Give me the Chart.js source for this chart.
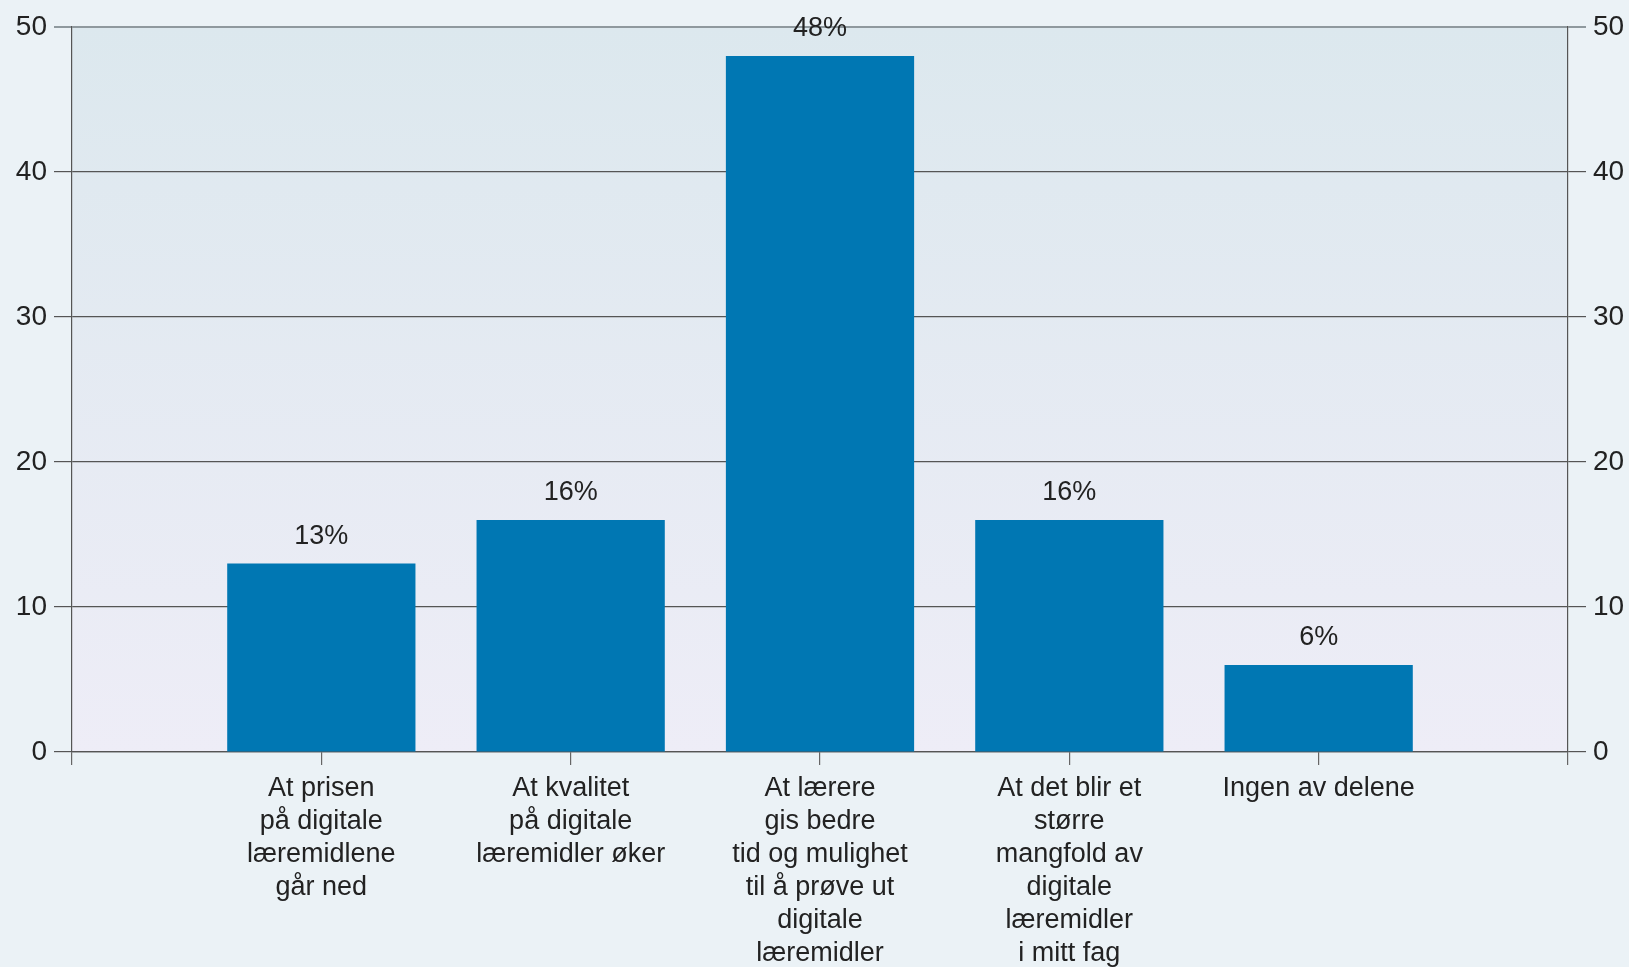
<!DOCTYPE html>
<html>
<head>
<meta charset="utf-8">
<script src="https://cdn.jsdelivr.net/npm/chart.js@4.4.0/dist/chart.umd.min.js"></script>
<style>
  html, body { margin: 0; padding: 0; background: #ebf2f6; }
  #wrap { width: 1629px; height: 967px; position: relative; }
</style>
</head>
<body>
<div id="wrap"><canvas id="c" width="1629" height="967"></canvas></div>
<script>
const categories = [
  '',
  ['At prisen', 'på digitale', 'læremidlene', 'går ned'],
  ['At kvalitet', 'på digitale', 'læremidler øker'],
  ['At lærere', 'gis bedre', 'tid og mulighet', 'til å prøve ut', 'digitale', 'læremidler'],
  ['At det blir et', 'større', 'mangfold av', 'digitale', 'læremidler', 'i mitt fag'],
  ['Ingen av delene'],
  ''
];
const values = [null, 13, 16, 48, 16, 6, null];
const valueLabels = ['', '13%', '16%', '48%', '16%', '6%', ''];
const yTicks = [0, 10, 20, 30, 40, 50];

const FONT = "'Liberation Sans', Arial, sans-serif";

const bgPlugin = {
  id: 'bgPlugin',
  beforeDraw(chart) {
    const {ctx, chartArea: a} = chart;
    ctx.save();
    ctx.fillStyle = '#ebf2f6';
    ctx.fillRect(0, 0, chart.width, chart.height);
    const g = ctx.createLinearGradient(0, a.top, 0, a.bottom);
    g.addColorStop(0, '#dce8ee');
    g.addColorStop(1, '#eeedf7');
    ctx.fillStyle = g;
    ctx.fillRect(a.left, a.top, a.right - a.left, a.bottom - a.top);
    ctx.restore();
  }
};

const labelPlugin = {
  id: 'labelPlugin',
  afterDatasetsDraw(chart) {
    const {ctx} = chart;
    const meta = chart.getDatasetMeta(0);
    ctx.save();
    ctx.font = "27px " + FONT;
    ctx.fillStyle = '#222';
    ctx.textAlign = 'center';
    ctx.textBaseline = 'middle';
    meta.data.forEach((bar, i) => {
      if (values[i] == null) return;
      ctx.fillText(valueLabels[i], bar.x, bar.y - 27);
    });
    ctx.restore();
  }
};

new Chart(document.getElementById('c'), {
  type: 'bar',
  data: {
    labels: categories,
    datasets: [{
      data: values,
      backgroundColor: '#0077b3',
      borderWidth: 0,
      barPercentage: 0.755,
      categoryPercentage: 1
    }]
  },
  plugins: [bgPlugin, labelPlugin],
  options: {
    responsive: false,
    animation: false,
    devicePixelRatio: 1,
    layout: { padding: { top: 27, left: 0, right: 0, bottom: 0 } },
    plugins: { legend: { display: false }, tooltip: { enabled: false } },
    scales: {
      x: {
        offset: false,
        grid: {
          offset: false,
          drawOnChartArea: false,
          drawTicks: true,
          tickLength: 13,
          color: '#666',
          lineWidth: 1.2
        },
        border: { display: true, color: '#555', width: 1.2 },
        ticks: {
          autoSkip: false,
          maxRotation: 0,
          minRotation: 0,
          padding: 7,
          color: '#222',
          font: { family: FONT, size: 27, lineHeight: '33px' }
        },
        afterFit(scale) { scale.height = 215; }
      },
      y: {
        position: 'left',
        min: 0, max: 50,
        afterBuildTicks(scale) { scale.ticks = yTicks.map(v => ({value: v})); },
        grid: {
          color: ctx => ctx.tick && ctx.tick.value === 50 ? '#8f999e' : '#555',
          lineWidth: ctx => ctx.tick && ctx.tick.value === 50 ? 2 : 1.2,
          tickLength: 18,
          drawTicks: true
        },
        border: { display: true, color: '#555', width: 1.2 },
        ticks: {
          padding: 7,
          color: '#222',
          font: { family: FONT, size: 28 }
        },
        afterFit(scale) { scale.width = 72; }
      },
      y2: {
        position: 'right',
        min: 0, max: 50,
        afterBuildTicks(scale) { scale.ticks = yTicks.map(v => ({value: v})); },
        grid: {
          drawOnChartArea: false,
          color: ctx => ctx.tick && ctx.tick.value === 50 ? '#8f999e' : '#555',
          lineWidth: ctx => ctx.tick && ctx.tick.value === 50 ? 2 : 1.2,
          tickLength: 18,
          drawTicks: true
        },
        border: { display: true, color: '#555', width: 1.2 },
        ticks: {
          padding: 7,
          color: '#222',
          font: { family: FONT, size: 28 }
        },
        afterFit(scale) { scale.width = 61; }
      }
    }
  }
});
</script>
</body>
</html>
